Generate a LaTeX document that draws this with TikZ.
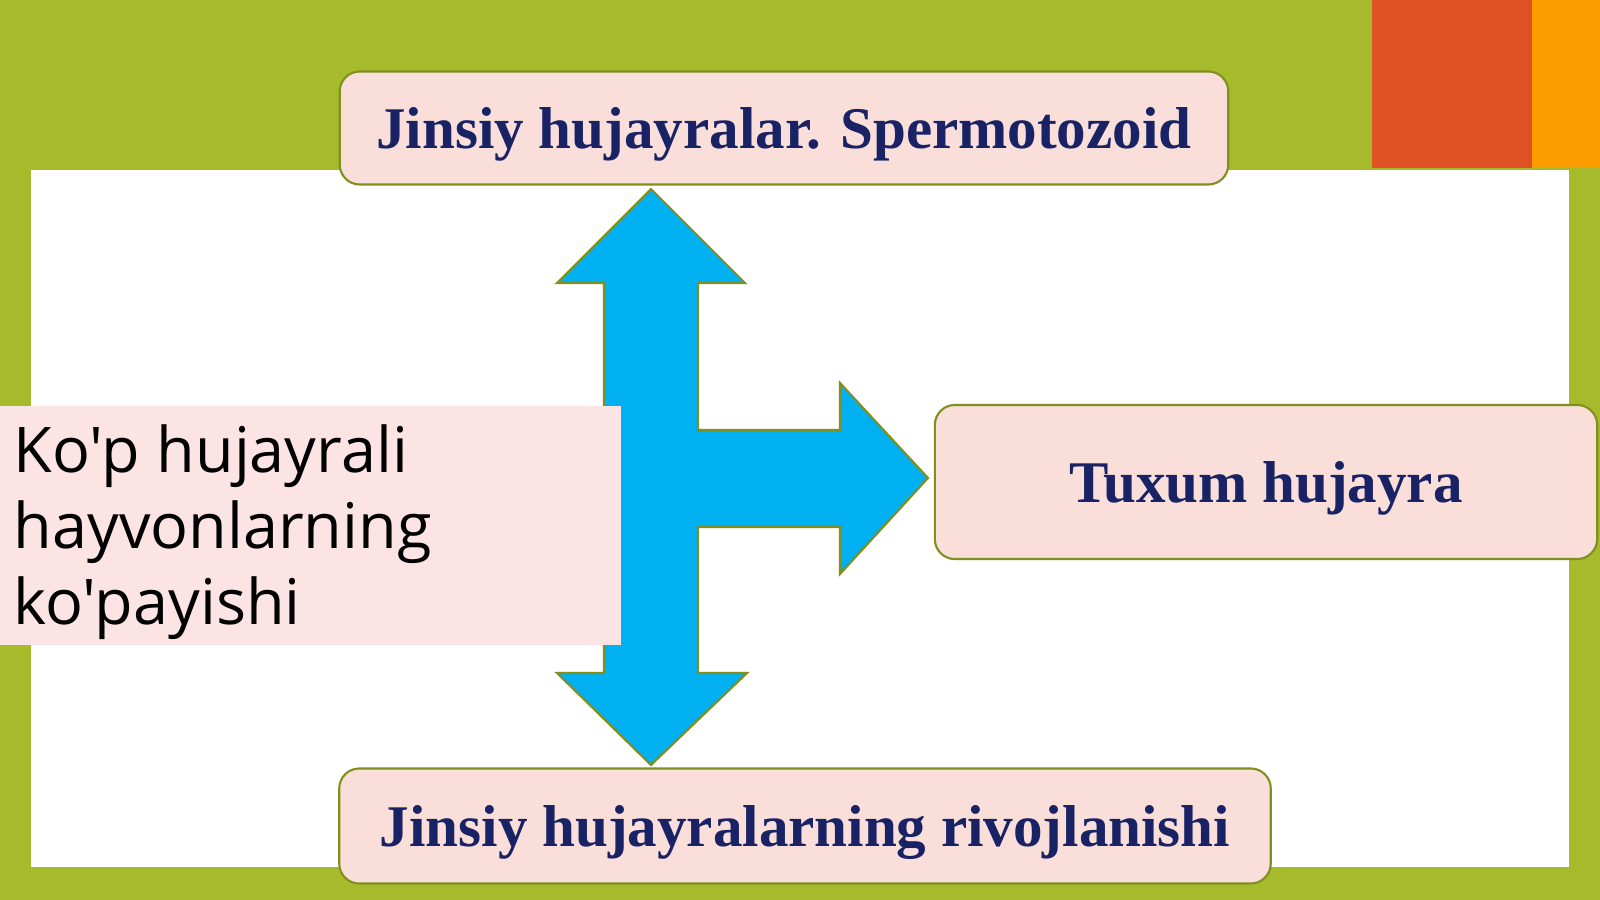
\documentclass[tikz,border=0pt]{standalone}
\usepackage{fontspec}
\setmainfont{Liberation Serif}
\newfontfamily\bodyfont{Open Sans}
\usepackage{tikz}
\usetikzlibrary{shapes,arrows,positioning}
\definecolor{slidegreen}{RGB}{167,186,43}
\definecolor{slidered}{RGB}{224,82,38}
\definecolor{slideorange}{RGB}{251,157,0}
\definecolor{boxpink}{RGB}{249,222,218}
\definecolor{leftpink}{RGB}{252,228,228}
\definecolor{boxline}{RGB}{128,143,30}
\definecolor{arrowblue}{RGB}{0,176,240}
\definecolor{titlenavy}{RGB}{24,34,100}
\tikzstyle{block} = [draw=boxline, line width=0.6pt, fill=boxpink, rectangle,
    rounded corners=0.2cm, font=\fontsize{16.8}{20}\selectfont\bfseries,
    text=titlenavy, align=center, text depth=0pt]
\tikzstyle{topic} = [rectangle, fill=leftpink, inner sep=0pt, anchor=north west,
    minimum width=6.23cm, minimum height=2.39cm]
\tikzstyle{fork} = [draw=boxline, line width=0.6pt, fill=arrowblue, line join=miter]

\begin{document}
\begin{tikzpicture}[x=0.01cm, y=-0.01cm]
          % Slide background
          \useasboundingbox (0,0) rectangle (1600,900);
          \clip (0,0) rectangle (1600,900);
          \fill [slidegreen] (0,0) rectangle (1600,900);
          \fill [white] (31,170) rectangle (1569,867);
          \fill [slidered] (1372,0) rectangle (1532,168);
          \fill [slideorange] (1532,0) rectangle (1600,168);

          % Three-way arrow
          \draw [fork] (651,189) -- (745,283) -- (698,283) -- (698,430)
              -- (840,430) -- (840,383) -- (928,478) -- (840,574) -- (840,527)
              -- (698,527) -- (698,673) -- (747,673) -- (651,765) -- (557,673)
              -- (604,673) -- (604,283) -- (557,283) -- cycle;

          % Place the blocks
          \node [block, minimum width=8.88cm, minimum height=1.13cm] (sperm) at (784,128)
              {Jinsiy hujayralar. Spermotozoid};
          \node [block, minimum width=6.62cm, minimum height=1.54cm] (egg) at (1266,482)
              {Tuxum hujayra};
          \node [block, minimum width=9.31cm, minimum height=1.15cm] (growth) at (805,826)
              {Jinsiy hujayralarning rivojlanishi};
          \node [topic] (topic) at (-3,405) {};
          \node [anchor=west, align=left, font=\bodyfont\fontsize{17.9}{21.6}\selectfont,
              inner sep=0pt] (topictext) at ([xshift=0.16cm, yshift=-0.07cm]topic.west)
              {Ko'p hujayrali\\hayvonlarning\\ko'payishi};
      \end{tikzpicture}
\end{document}
